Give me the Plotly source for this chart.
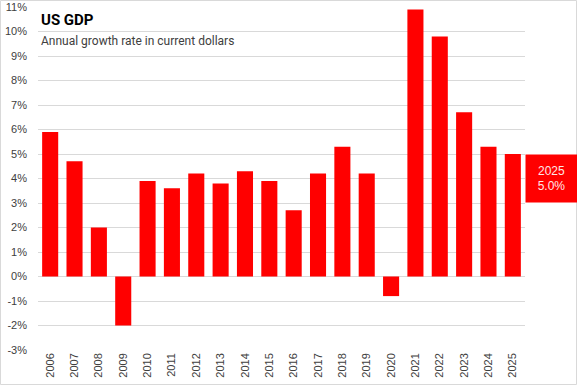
import plotly.graph_objects as go

years = [str(y) for y in range(2006, 2026)]
growth = [5.9, 4.7, 2.0, -2.0, 3.9, 3.6, 4.2, 3.8, 4.3, 3.9,
          2.7, 4.2, 5.3, 4.2, -0.8, 10.9, 9.8, 6.7, 5.3, 5.0]
y_ticks = list(range(-3, 12))
y_tick_labels = [f"{v}%" for v in y_ticks]
title_text = "US GDP"
subtitle_text = "Annual growth rate in current dollars"

W, H = 577, 385
ml, mr, mt, mb = 38, 52, 7, 35
pw = W - ml - mr
ph = H - mt - mb

fig = go.Figure()
fig.add_trace(go.Bar(x=years, y=growth, marker=dict(color="#ff0000", line=dict(width=0)),
                     hoverinfo="x+y"))

fig.update_layout(
    width=W, height=H,
    margin=dict(l=ml, r=mr, t=mt, b=mb, autoexpand=False),
    paper_bgcolor="white", plot_bgcolor="white",
    bargap=0.34, showlegend=False,
    font=dict(family="Liberation Sans, Arial", color="#404040", size=11),
    xaxis=dict(type="category", tickangle=-90, showgrid=False, showline=False,
               ticks="", automargin=False, tickfont=dict(size=11, color="#404040")),
    yaxis=dict(range=[-3, 11], tickvals=y_ticks, ticktext=y_tick_labels,
               showgrid=True, gridcolor="#d9d9d9", gridwidth=1,
               zeroline=True, zerolinecolor="#d9d9d9", zerolinewidth=1,
               showline=False, ticks="", ticklabelstandoff=10, automargin=False,
               tickfont=dict(size=11, color="#404040")),
)

fig.add_annotation(xref="paper", yref="paper", x=0.003, y=1 - (20 - mt) / ph,
                   text=f"<b>{title_text}</b>", showarrow=False, xanchor="left", yanchor="middle",
                   font=dict(family="Roboto", size=15, color="#000000"))
fig.add_annotation(xref="paper", yref="paper", x=0.003, y=1 - (41 - mt) / ph,
                   text=subtitle_text, showarrow=False, xanchor="left", yanchor="middle",
                   font=dict(family="Roboto", size=12, color="#404040"))

fig.add_annotation(xref="paper", yref="y", x=1, y=growth[-1],
                   text=f"{years[-1]}<br>{growth[-1]:.1f}%", showarrow=False,
                   xanchor="left", yanchor="top", align="center",
                   bgcolor="#ff0000", width=47, height=43, borderpad=2,
                   font=dict(family="Liberation Sans, Arial", size=12, color="#ffe6e6"))

fig.add_shape(type="rect", xref="paper", yref="paper",
              x0=-ml / pw + 0.5 / pw, x1=1 + (mr - 0.5) / pw,
              y0=-(mb - 0.5) / ph, y1=1 + (mt - 0.5) / ph,
              line=dict(color="#d9d9d9", width=1), fillcolor="rgba(0,0,0,0)", layer="below")

fig.write_html("out.html", config={"displayModeBar": False},
               post_script="document.body.style.margin='0';document.body.style.overflow='hidden';")
